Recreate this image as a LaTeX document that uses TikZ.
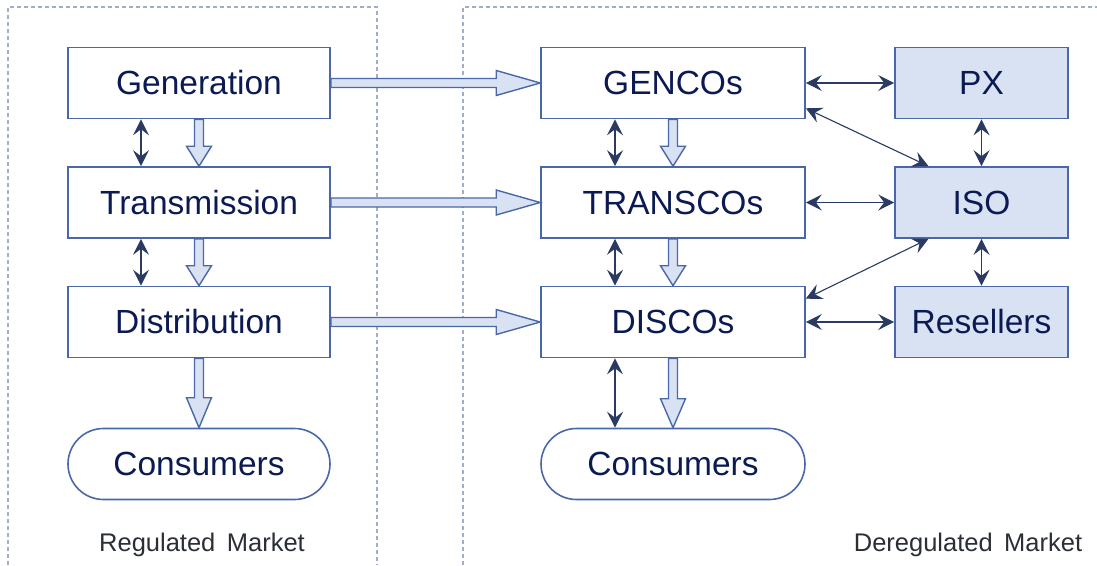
\documentclass[tikz,border=0pt]{standalone}
\usepackage{fontspec}
\setmainfont{Liberation Sans}
\usetikzlibrary{calc,arrows.meta,shapes.misc}
\definecolor{edge}{HTML}{4A68A8}
\definecolor{ink}{HTML}{0B1A52}
\definecolor{pale}{HTML}{D9E2F3}
\definecolor{link}{HTML}{2A3A62}
\definecolor{frame}{HTML}{A0AECB}
\definecolor{caption}{HTML}{2A2E35}
\tikzset{
  box/.style={draw=edge, line width=1.6pt, minimum width=262pt, minimum height=71pt,
    inner sep=0pt, text=ink, font=\fontsize{33.5}{40}\selectfont},
  agent/.style={box, fill=pale, minimum width=173pt},
  endpoint/.style={box, rounded rectangle},
  marketlabel/.style={text=caption, font=\fontsize{25.5}{30}\selectfont, inner sep=0pt},
  region/.style={draw=frame, line width=1.2pt, dash pattern=on 4pt off 3pt},
  link/.style={draw=link, line width=1.1pt,
    {Stealth[length=16pt,width=16pt,inset=6pt]}-{Stealth[length=16pt,width=16pt,inset=6pt]}},
  flow/.style={draw=edge, fill=pale, line width=1.4pt, line join=miter},
  blk/.style={to path={let \p0=($(\tikztotarget)!#1!(\tikztostart)$) in
    ($(\tikztostart)!4.5pt!90:(\tikztotarget)$) -- ($(\p0)!4.5pt!90:(\tikztotarget)$)
    -- ($(\p0)!12.5pt!90:(\tikztotarget)$) -- (\tikztotarget)
    -- ($(\p0)!12.5pt!-90:(\tikztotarget)$) -- ($(\p0)!4.5pt!-90:(\tikztotarget)$)
    -- ($(\tikztostart)!4.5pt!-90:(\tikztotarget)$) -- cycle}},
  blk/.default=20pt
}
\begin{document}
\begin{tikzpicture}[x=1pt,y=-1pt]
\useasboundingbox (0,0) rectangle (1097,565);

% market regions
\draw[region] (8,565) -- (8,7) -- (377,7) -- (377,565);
\draw[region] (463,565) -- (463,7) -- (1097,7);

% regulated chain
\node[box] (gen) at (199,83) {Generation};
\node[box] (tra) at (199,202.5) {Transmission};
\node[box] (dis) at (199,322) {Distribution};
\node[endpoint] (con) at (199,464) {Consumers};

% deregulated chain
\node[box, minimum width=264pt] (gco) at (673,83) {GENCOs};
\node[box, minimum width=264pt] (tco) at (673,202.5) {TRANSCOs};
\node[box, minimum width=264pt] (dco) at (673,322) {DISCOs};
\node[endpoint, minimum width=264pt] (dcon) at (673,464) {Consumers};

% market agents
\node[agent] (px) at (981.5,83) {PX};
\node[agent] (iso) at (981.5,202.5) {ISO};
\node[agent] (res) at (981.5,322) {Resellers};

% captions
\node[marketlabel] (lreg) at (202,545) {Regulated\hspace{0.45em}Market};
\node[marketlabel] (ldereg) at (968,545) {Deregulated\hspace{0.45em}Market};

% power flow
\path[flow] (gen.south) to[blk] (tra.north);
\path[flow] (tra.south) to[blk] (dis.north);
\path[flow] (dis.south) to[blk=30pt] (con.north);
\path[flow] (gco.south) to[blk] (tco.north);
\path[flow] (tco.south) to[blk] (dco.north);
\path[flow] (dco.south) to[blk=29pt] (dcon.north);

% restructuring
\path[flow] (gen.east) to[blk=44pt] (gco.west);
\path[flow] (tra.east) to[blk=44pt] (tco.west);
\path[flow] (dis.east) to[blk=44pt] (dco.west);

% information exchange
\draw[link] ([xshift=-58pt]gen.south) -- ([xshift=-58pt]tra.north);
\draw[link] ([xshift=-58pt]tra.south) -- ([xshift=-58pt]dis.north);
\draw[link] ([xshift=-58pt]gco.south) -- ([xshift=-58pt]tco.north);
\draw[link] ([xshift=-58pt]tco.south) -- ([xshift=-58pt]dco.north);
\draw[link] ([xshift=-58pt]dco.south) -- ([xshift=-58pt]dcon.north);
\draw[link] (gco.east) -- (px.west);
\draw[link] (tco.east) -- (iso.west);
\draw[link] (dco.east) -- (res.west);
\draw[link] (px.south) -- (iso.north);
\draw[link] (iso.south) -- (res.north);
\draw[link] ([yshift=11pt]gco.south east) -- ([xshift=-53pt]iso.north);
\draw[link] ([xshift=-53pt]iso.south) -- ([yshift=-13pt]dco.north east);
\end{tikzpicture}
\end{document}
